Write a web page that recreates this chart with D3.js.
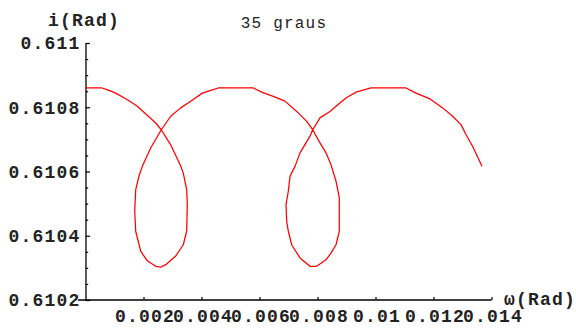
<!DOCTYPE html>
<html>
<head>
<meta charset="utf-8">
<script src="https://cdn.jsdelivr.net/npm/d3@7"></script>
<style>
  html, body { margin: 0; padding: 0; background: #fff; }
  svg { display: block; }
  .lbl { font-family: "Liberation Mono", "DejaVu Sans Mono", monospace; font-weight: bold; fill: #222; }
</style>
</head>
<body>
<svg id="chart" width="576" height="329"></svg>
<script>
// Trajectory of the orbit: ω (rad) on x, i (rad) on y
const omega = [
  0.000000, 0.000569, 0.000741, 0.001041, 0.001431, 0.001776, 0.002121, 0.002421,
  0.002614, 0.002938, 0.003283, 0.003372, 0.003490, 0.003510, 0.003490, 0.003372,
  0.003110, 0.002766, 0.002593, 0.002421, 0.002131, 0.001903, 0.001731, 0.001697,
  0.001731, 0.001845, 0.001959, 0.002248, 0.002614, 0.002938, 0.003283, 0.003628,
  0.004028, 0.004293, 0.004579, 0.005786, 0.006076, 0.006476, 0.006879, 0.007283,
  0.007628, 0.007834, 0.008086, 0.008293, 0.008466, 0.008638, 0.008752, 0.008752,
  0.008638, 0.008466, 0.008293, 0.007972, 0.007741, 0.007397, 0.007110, 0.006993,
  0.006938, 0.006914, 0.006993, 0.007052, 0.007224, 0.007397, 0.007741, 0.007834,
  0.008086, 0.008431, 0.008638, 0.008983, 0.009328, 0.009845, 0.011052, 0.011397,
  0.011855, 0.012317, 0.012662, 0.012948, 0.013121, 0.013352, 0.013672
];
const incl = [
  0.610860, 0.610860, 0.610855, 0.610844, 0.610824, 0.610804, 0.610776, 0.610751,
  0.610730, 0.610683, 0.610617, 0.610595, 0.610543, 0.610497, 0.610415, 0.610372,
  0.610337, 0.610310, 0.610302, 0.610305, 0.610322, 0.610352, 0.610414, 0.610476,
  0.610543, 0.610586, 0.610616, 0.610673, 0.610730, 0.610772, 0.610798, 0.610819,
  0.610844, 0.610852, 0.610860, 0.610860, 0.610847, 0.610834, 0.610819, 0.610787,
  0.610756, 0.610730, 0.610689, 0.610658, 0.610621, 0.610570, 0.610518, 0.610414,
  0.610372, 0.610346, 0.610325, 0.610305, 0.610305, 0.610331, 0.610372, 0.610414,
  0.610445, 0.610497, 0.610538, 0.610585, 0.610616, 0.610658, 0.610710, 0.610730,
  0.610767, 0.610787, 0.610803, 0.610829, 0.610847, 0.610860, 0.610860, 0.610844,
  0.610827, 0.610798, 0.610772, 0.610746, 0.610715, 0.610678, 0.610616
];

const xTicks = [0.002, 0.004, 0.006, 0.008, 0.010, 0.012, 0.014];
const xTickLabels = ["0.002", "0.004", "0.006", "0.008", "0.01", "0.012", "0.014"];
const yTicks = [0.6102, 0.6104, 0.6106, 0.6108, 0.6110];
const yTickLabels = ["0.6102", "0.6104", "0.6106", "0.6108", "0.611"];
const yMinorTicks = [0.61025, 0.6103, 0.61035, 0.61045, 0.6105, 0.61055,
                     0.61065, 0.6107, 0.61075, 0.61085, 0.6109, 0.61095];

const title = "35 graus";
const xName = "ω(Rad)";
const yName = "i(Rad)";

const svg = d3.select("#chart");
const x = d3.scaleLinear().domain([0, 0.014]).range([85.5, 491.5]);
const y = d3.scaleLinear().domain([0.6102, 0.6110]).range([300, 43]);

const fontSize = 18;
const spacing = "1.2px";

// Horizontal axis (ticks point up into the plot)
const gx = svg.append("g").attr("transform", `translate(0,${y(0.6102)})`)
  .call(d3.axisBottom(x).tickValues(xTicks).tickSize(-3).tickSizeOuter(0)
        .tickFormat((d, i) => xTickLabels[i]).tickPadding(10));
gx.select(".domain").remove();
gx.append("line").attr("x1", 78).attr("x2", x(0.014)).attr("stroke", "#000").attr("stroke-width", 1.3);
gx.selectAll(".tick line").attr("stroke", "#000").attr("stroke-width", 1.2);
gx.selectAll(".tick text").attr("class", "lbl").style("font-size", fontSize + "px")
  .attr("fill", "#222").attr("dy", "0.68em").attr("dx", "1px").attr("letter-spacing", spacing);

// Vertical axis (ticks point right into the plot)
const gy = svg.append("g").attr("transform", `translate(${x(0)},0)`)
  .call(d3.axisLeft(y).tickValues(yTicks).tickSize(-4.5).tickSizeOuter(0)
        .tickFormat((d, i) => yTickLabels[i]).tickPadding(5));
gy.select(".domain").attr("stroke", "#000").attr("stroke-width", 1.3);
gy.selectAll(".tick line").attr("stroke", "#000").attr("stroke-width", 1.2);
gy.selectAll(".tick text").attr("class", "lbl").style("font-size", fontSize + "px")
  .attr("fill", "#222").attr("letter-spacing", spacing);

const gyMinor = svg.append("g").attr("transform", `translate(${x(0)},0)`)
  .call(d3.axisLeft(y).tickValues(yMinorTicks).tickSize(-2.7).tickSizeOuter(0).tickFormat(""));
gyMinor.select(".domain").remove();
gyMinor.selectAll(".tick line").attr("stroke", "#000").attr("stroke-width", 1.2);

// Orbit curve
const pts = omega.map((w, i) => [w, incl[i]]);
svg.append("path")
  .datum(pts)
  .attr("fill", "none")
  .attr("stroke", "#ff0000")
  .attr("stroke-width", 1.25)
  .attr("stroke-linejoin", "round")
  .attr("d", d3.line().x(d => x(d[0])).y(d => y(d[1])));

// Texts
svg.append("text").attr("class", "lbl").attr("x", 84).attr("y", 26)
  .attr("text-anchor", "middle").style("font-size", fontSize + "px").attr("letter-spacing", spacing)
  .text(yName);
svg.append("text").attr("class", "lbl").attr("x", 504).attr("y", 305)
  .attr("text-anchor", "start").style("font-size", fontSize + "px").attr("letter-spacing", spacing)
  .text(xName);
svg.append("text").attr("class", "lbl").attr("x", 284).attr("y", 28)
  .attr("text-anchor", "middle").style("font-size", "16px").style("font-weight", "normal")
  .attr("letter-spacing", "1.2px")
  .text(title);
</script>
</body>
</html>
